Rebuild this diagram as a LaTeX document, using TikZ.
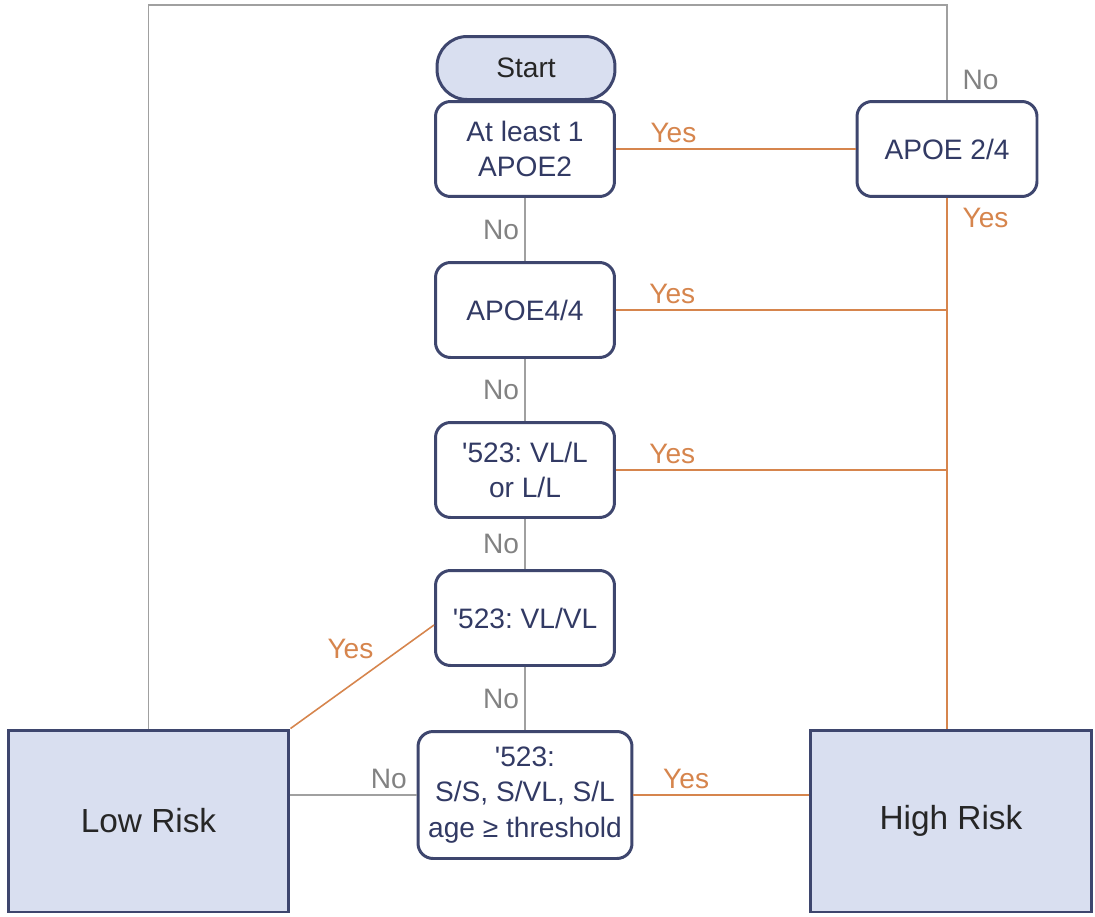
\documentclass[tikz,border=0pt]{standalone}
\usepackage{fontspec}
\setmainfont{Liberation Sans}
\frenchspacing
\definecolor{myblue1}{RGB}{217, 223, 240}
\definecolor{myframe}{RGB}{62, 70, 110}
\definecolor{mytext}{RGB}{50, 58, 100}
\definecolor{myorange}{RGB}{214, 133, 77}
\definecolor{mygray1}{RGB}{160, 160, 160}
\definecolor{mygray2}{RGB}{130, 130, 130}
\begin{document}
\begin{tikzpicture}[
    x = 0.02cm, y = -0.02cm,
    font = \fontsize{16}{20}\selectfont,
    test/.style = {draw = myframe, line width = 1.7pt, rounded corners = 0.3cm, fill = white,
        text = mytext, align = center, minimum width = 3.58cm, minimum height = 1.9cm, inner sep = 2pt},
    risk/.style = {draw = myframe, line width = 1.7pt, fill = myblue1, text = black!85,
        font = \fontsize{19}{23}\selectfont, minimum width = 5.62cm, minimum height = 3.64cm},
    yesline/.style = {myorange, line width = 0.9pt},
    noline/.style = {mygray1, line width = 0.9pt},
    yes/.style = {text = myorange, inner sep = 3pt},
    no/.style = {text = mygray2, inner sep = 3pt}
]
\useasboundingbox (0,0) rectangle (1095,916);

% decision boxes
\node[test, rounded corners = 0.6cm, fill = myblue1, minimum width = 3.56cm, minimum height = 1.26cm, text = black!85] (start) at (526,68) {Start};
\node[test] (apoe2) at (525,149) {At least 1\\APOE2};
\node[test] (apoe44) at (525,310) {APOE4/4};
\node[test] (vll) at (525,470) {\textquotesingle523: VL/L\\or L/L};
\node[test] (vlvl) at (525,618) {\textquotesingle523: VL/VL};
\node[test, minimum width = 4.28cm, minimum height = 2.54cm] (sss) at (525,795) {\textquotesingle523:\\S/S, S/VL, S/L\\age ≥ threshold};
\node[test, minimum width = 3.6cm] (apoe24) at (947,149) {APOE 2/4};

% outcomes
\node[risk] (low) at (148.5,821) {Low Risk};
\node[risk] (high) at (951,821) {High Risk};

\coordinate (top) at (527,5);

% no branches
\draw[noline] (apoe2.south) -- node[no, left] (no1) {No} (apoe44.north);
\draw[noline] (apoe44.south) -- node[no, left] (no2) {No} (vll.north);
\draw[noline] (vll.south) -- node[no, left] (no3) {No} (vlvl.north);
\draw[noline] (vlvl.south) -- node[no, left] (no4) {No} (sss.north);
\draw[noline] (sss.west -| low.east) -- node[no, above, pos = 0.78] (no5) {No} (sss.west);
\draw[noline] (low.north) -- (low.north |- top) -| (apoe24.north);
\node[no, above right, xshift = 0.2cm, yshift = 0.1cm] (no6) at (apoe24.north) {No};

% yes branches
\draw[yesline] (apoe2.east) -- node[yes, above, pos = 0.24] (yes1) {Yes} (apoe24.west);
\draw[yesline] (apoe24.south) -- (apoe24.south |- high.north);
\node[yes, below right, xshift = 0.2cm, yshift = -0.1cm] (yes2) at (apoe24.south) {Yes};
\draw[yesline] (apoe44.east) -- node[yes, above, pos = 0.17] (yes3) {Yes} (apoe44.east -| apoe24.south);
\draw[yesline] (vll.east) -- node[yes, above, pos = 0.17] (yes4) {Yes} (vll.east -| apoe24.south);
\draw[yesline] ([yshift = -0.14cm]vlvl.west) -- node[yes, above left, pos = 0.38] (yes5) {Yes} (low.north east);
\draw[yesline] (sss.east) -- node[yes, above, pos = 0.3] (yes6) {Yes} (sss.east -| high.west);

\end{tikzpicture}
\end{document}
